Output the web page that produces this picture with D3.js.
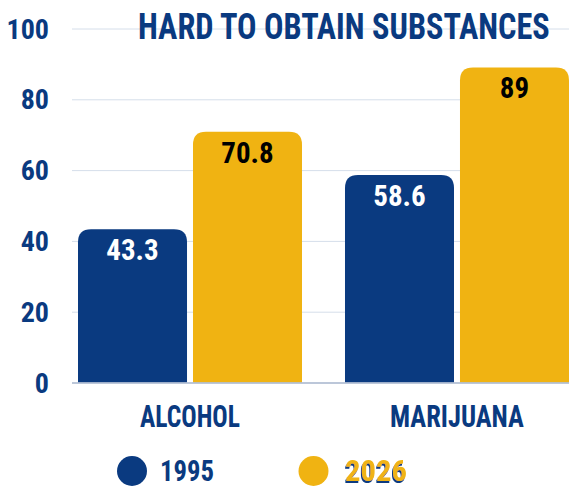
<!DOCTYPE html>
<html><head><meta charset="utf-8">
<script src="https://cdn.jsdelivr.net/npm/d3@7"></script>
<style>
html,body{margin:0;padding:0;background:#fff;}
text{font-family:"Roboto Condensed","Liberation Sans Narrow","DejaVu Sans Condensed",sans-serif;font-weight:bold;}
</style></head>
<body>
<svg id="c" width="569" height="487"></svg>
<script>
const categories = ["ALCOHOL", "MARIJUANA"];
const seriesNames = ["1995", "2026"];
const values1995 = [43.3, 58.6];
const values2026 = [70.8, 89];
const yTicks = [0, 20, 40, 60, 80, 100];
const title = "HARD TO OBTAIN SUBSTANCES";

const BLUE = "#0a3a80", YELLOW = "#f0b312";
const colors = {"1995": BLUE, "2026": YELLOW};
const labelColors = {"1995": "#ffffff", "2026": "#000000"};

const svg = d3.select("#c");
const defs = svg.append("defs");
const f = defs.append("filter").attr("id", "shadow").attr("x", "-20%").attr("y", "-20%").attr("width", "140%").attr("height", "140%");
f.append("feOffset").attr("in", "SourceAlpha").attr("dx", -1).attr("dy", 2).attr("result", "off");
f.append("feFlood").attr("flood-color", BLUE).attr("result", "fl");
f.append("feComposite").attr("in", "fl").attr("in2", "off").attr("operator", "in").attr("result", "sh");
const fm = f.append("feMerge");
fm.append("feMergeNode").attr("in", "sh");
fm.append("feMergeNode").attr("in", "SourceGraphic");

// fit a text to a given width by horizontal scaling
function fitWidth(sel, x, yb, w) {
  sel.attr("x", 0).attr("y", 0);
  const n = sel.node().getComputedTextLength();
  const sx = w / n;
  sel.attr("transform", `translate(${x},${yb}) scale(${sx},1)`);
}

const y = d3.scaleLinear().domain([0, 100]).range([382.5, 28.5]);
const x0 = d3.scaleBand().domain(categories).range([72, 575]).paddingInner(0.161).paddingOuter(0.0225);
const x1 = d3.scaleBand().domain(seriesNames).range([0, x0.bandwidth()]).paddingInner(0.052);

// grid
svg.append("g").selectAll("line").data(yTicks.filter(d => d > 0)).join("line")
  .attr("x1", 72).attr("x2", 569)
  .attr("y1", d => y(d) + 0.5).attr("y2", d => y(d) + 0.5)
  .attr("stroke", "#d5deea").attr("stroke-width", 1);

// y tick labels
svg.append("g").selectAll("text").data(yTicks).join("text")
  .attr("x", 49).attr("y", d => y(d) + 10)
  .attr("text-anchor", "end")
  .attr("font-size", 28).attr("fill", BLUE)
  .text(d => d);

// title
const t = svg.append("text").attr("font-size", 36).attr("fill", BLUE).text(title);
fitWidth(t, 138, 38.5, 412);

const data = [];
categories.forEach((c, i) => {
  data.push({cat: c, s: "1995", v: values1995[i]});
  data.push({cat: c, s: "2026", v: values2026[i]});
});

function topRounded(x, yTop, w, yBot, r) {
  return `M${x},${yBot}V${yTop + r}Q${x},${yTop} ${x + r},${yTop}H${x + w - r}Q${x + w},${yTop} ${x + w},${yTop + r}V${yBot}Z`;
}

const bars = svg.append("g");
bars.selectAll("path").data(data).join("path")
  .attr("d", d => topRounded(x0(d.cat) + x1(d.s), y(d.v), x1.bandwidth(), y(0), 13))
  .attr("fill", d => colors[d.s]);

// axis line
svg.append("line").attr("x1", 72).attr("x2", 569)
  .attr("y1", y(0) + 0.5).attr("y2", y(0) + 0.5)
  .attr("stroke", "#a6b4cc").attr("stroke-width", 1.5);

// value labels
bars.selectAll("text").data(data).join("text")
  .attr("x", d => x0(d.cat) + x1(d.s) + x1.bandwidth() / 2)
  .attr("y", d => y(d.v) + 31)
  .attr("text-anchor", "middle")
  .attr("font-size", 29)
  .attr("fill", d => labelColors[d.s])
  .text(d => d.v);

// category labels
const catWidths = [100, 134];
svg.append("g").selectAll("text").data(categories).join("text")
  .attr("font-size", 31).attr("fill", BLUE)
  .text(d => d)
  .each(function (d, i) {
    fitWidth(d3.select(this), x0(d) + x0.bandwidth() / 2 - catWidths[i] / 2, 427, catWidths[i]);
  });

// legend
const legendX = [132, 313.5];
const legendTextX = [160, 345];
const legendTextW = [54, 62];
const lg = svg.append("g");
lg.selectAll("circle").data(seriesNames).join("circle")
  .attr("cx", (d, i) => legendX[i]).attr("cy", 471).attr("r", 15)
  .attr("fill", d => colors[d]);
lg.selectAll("text").data(seriesNames).join("text")
  .attr("font-size", 29)
  .attr("fill", d => colors[d])
  .attr("filter", (d, i) => i === 1 ? "url(#shadow)" : null)
  .text(d => d)
  .each(function (d, i) {
    fitWidth(d3.select(this), legendTextX[i], 480.5, legendTextW[i]);
  });
</script>
</body></html>
